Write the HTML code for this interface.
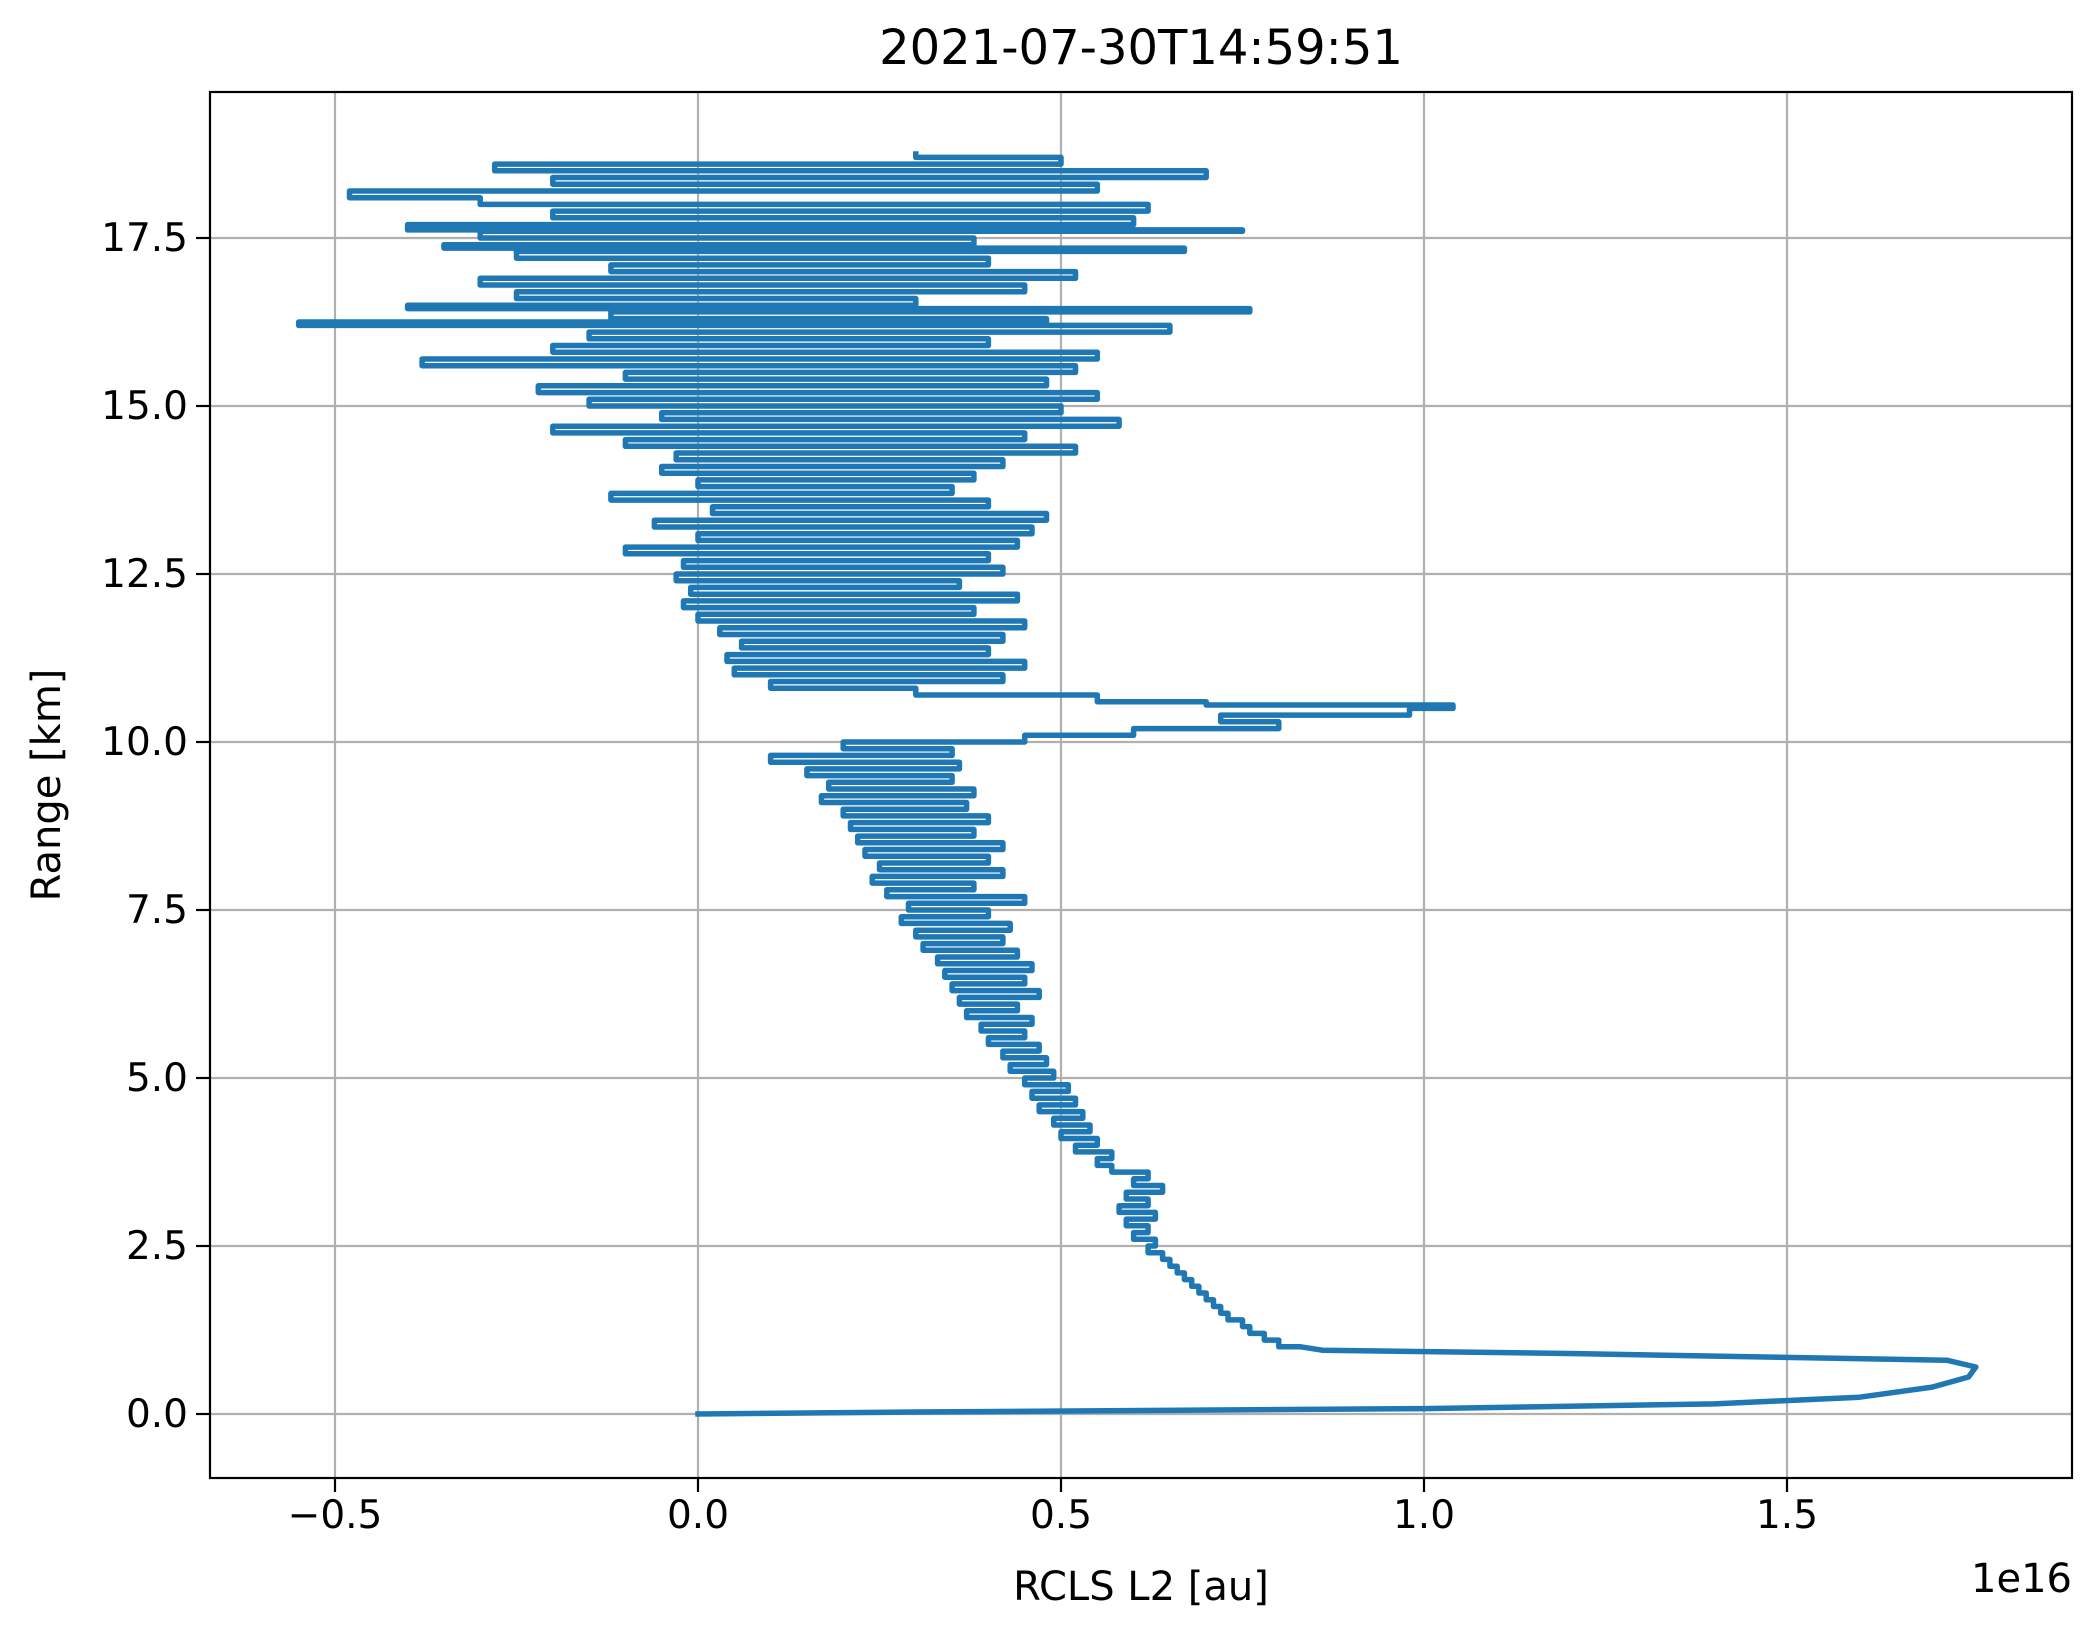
<!DOCTYPE html>
<html><head><meta charset="utf-8"><style>
html,body{margin:0;padding:0;background:#fff;}
svg{display:block;font-family:"DejaVu Sans","Liberation Sans",sans-serif;}
</style></head><body>
<svg id="chart" width="2100" height="1638" viewBox="0 0 2100 1638" xmlns="http://www.w3.org/2000/svg">
<rect width="2100" height="1638" fill="#fff"/>
<g id="grid"></g>
<g id="series"></g>
<rect x="210" y="92" width="1862" height="1386" fill="none" stroke="#000" stroke-width="2.2"/>
<g id="ticks"></g>
<text x="1141" y="64" text-anchor="middle" font-size="48">2021-07-30T14:59:51</text>
<text x="1141" y="1600" text-anchor="middle" font-size="40">RCLS L2 [au]</text>
<text x="2072" y="1592" text-anchor="end" font-size="40">1e16</text>
<text transform="translate(60,785) rotate(-90)" text-anchor="middle" font-size="40">Range [km]</text>
</svg>
<script>
const xTicks = [-0.5, 0.0, 0.5, 1.0, 1.5];
const xTickLabels = ["\u22120.5", "0.0", "0.5", "1.0", "1.5"];
const yTicks = [0, 2.5, 5, 7.5, 10, 12.5, 15, 17.5];
const yTickLabels = ["0.0", "2.5", "5.0", "7.5", "10.0", "12.5", "15.0", "17.5"];
const ranges = [0,0.03,0.08,0.15,0.25,0.4,0.55,0.7,0.8,0.9,0.95,1.0,
1.1,1.2,1.3,1.4,1.5,1.6,1.7,1.8,1.9,2.0,2.1,2.2,2.3,2.4,2.5,2.6,2.7,2.8,2.9,3.0,3.1,3.2,3.3,3.4,3.5,3.6,3.7,3.8,3.9,4.0,4.1,4.2,4.3,4.4,4.5,4.6,4.7,4.8,4.9,5.0,5.1,5.2,5.3,5.4,5.5,5.6,5.7,5.8,5.9,6.0,6.1,6.2,6.3,6.4,6.5,6.6,6.7,6.8,6.9,7.0,7.1,7.2,7.3,7.4,7.5,7.6,7.7,7.8,7.9,8.0,8.1,8.2,8.3,8.4,8.5,8.6,8.7,8.8,8.9,9.0,9.1,9.2,9.3,9.4,9.5,9.6,9.7,9.8,9.9,10.0,10.1,10.2,10.3,10.4,10.5,10.55,10.6,10.7,10.8,10.9,11.0,11.1,11.2,11.3,11.4,11.5,11.6,11.7,11.8,11.9,12.0,12.1,12.2,12.3,12.4,12.5,12.6,12.7,12.8,12.9,13.0,13.1,13.2,13.3,13.4,13.5,13.6,13.7,13.8,13.9,14.0,14.1,14.2,14.3,14.4,14.5,14.6,14.7,14.8,14.9,15.0,15.1,15.2,15.3,15.4,15.5,15.6,15.7,15.8,15.9,16.0,16.1,16.2,16.25,16.3,16.4,16.45,16.5,16.6,16.7,16.8,16.9,17.0,17.1,17.2,17.3,17.35,17.4,17.5,17.6,17.62,17.7,17.8,17.9,18.0,18.1,18.2,18.3,18.4,18.5,18.6,18.7,18.75];
const signal = [0,0.3,1.0,1.4,1.6,1.7,1.75,1.76,1.72,1.2,0.86,0.83,
0.80,0.78,0.76,0.75,0.73,0.72,0.71,0.70,0.69,0.68,0.67,0.66,0.65,0.64,0.62,0.63,0.60,0.62,0.59,0.63,0.58,0.62,0.59,0.64,0.60,0.62,0.57,0.55,0.57,0.52,0.55,0.50,0.54,0.49,0.53,0.47,0.52,0.46,0.51,0.45,0.49,0.43,0.48,0.42,0.47,0.40,0.45,0.39,0.46,0.37,0.44,0.36,0.47,0.35,0.45,0.34,0.46,0.33,0.44,0.31,0.42,0.30,0.43,0.28,0.40,0.29,0.45,0.26,0.38,0.24,0.42,0.25,0.40,0.23,0.42,0.22,0.38,0.21,0.40,0.20,0.37,0.17,0.38,0.18,0.35,0.15,0.36,0.10,0.35,0.20,0.45,0.60,0.80,0.72,0.98,1.04,0.70,0.55,0.30,0.10,0.42,0.05,0.45,0.04,0.40,0.06,0.42,0.03,0.45,0.00,0.38,-0.02,0.44,-0.01,0.36,-0.03,0.42,-0.02,0.40,-0.10,0.44,0.00,0.46,-0.06,0.48,0.02,0.40,-0.12,0.35,0.00,0.38,-0.05,0.42,-0.03,0.52,-0.10,0.45,-0.20,0.58,-0.05,0.50,-0.15,0.55,-0.22,0.48,-0.10,0.52,-0.38,0.55,-0.20,0.40,-0.15,0.65,-0.55,0.48,-0.12,0.76,-0.40,0.30,-0.25,0.45,-0.30,0.52,-0.12,0.40,-0.25,0.67,-0.35,0.38,-0.30,0.75,-0.40,0.60,-0.20,0.62,-0.30,-0.48,0.55,-0.20,0.70,-0.28,0.50,0.30];

const X0 = 698, XS = 363/0.5;
const Y0 = 1414, YS = 168/2.5;
function xScale(v){ return X0 + v*XS; }
function yScale(v){ return Y0 - v*YS; }
const NS = "http://www.w3.org/2000/svg";
const grid = document.getElementById('grid');
const ticks = document.getElementById('ticks');
function mk(tag, attrs, parent){ const e=document.createElementNS(NS,tag); for(const k in attrs) e.setAttribute(k,attrs[k]); parent.appendChild(e); return e; }

xTicks.forEach((t,i)=>{
  const x = xScale(t);
  const g = mk('line',{x1:x,x2:x,y1:92,y2:1478,stroke:'#b0b0b0','stroke-width':2.2},grid);
  
  
  const tk = mk('line',{x1:x,x2:x,y1:1478,y2:1492,stroke:'#000','stroke-width':2.2},ticks);
  
  
  const lb = mk('text',{x:x,y:1528,'text-anchor':'middle','font-size':39},ticks);
  lb.textContent = xTickLabels[i];
  
  
});
yTicks.forEach((t,i)=>{
  const y = yScale(t);
  const g = mk('line',{x1:210,x2:2072,y1:y,y2:y,stroke:'#b0b0b0','stroke-width':2.2},grid);
  
  
  const tk = mk('line',{x1:196,x2:210,y1:y,y2:y,stroke:'#000','stroke-width':2.2},ticks);
  
  
  const lb = mk('text',{x:188,y:y+13,'text-anchor':'end','font-size':39},ticks);
  lb.textContent = yTickLabels[i];
  
  
});
// step-style path: low-altitude smooth part as polyline, noisy part as horizontal steps
let d = '';
ranges.forEach((r,i)=>{
  const x = xScale(signal[i]).toFixed(1), y = yScale(r).toFixed(1);
  if(i===0){ d += 'M'+x+','+y; return; }
  if(r <= 1.0){ d += ' L'+x+','+y; return; }
  const yPrev = yScale(ranges[i-1]).toFixed(1);
  d += ' L'+x+','+yPrev+' L'+x+','+y;
});
const line = mk('path',{d:d,fill:'none',stroke:'#1f77b4','stroke-width':5.5,'stroke-linejoin':'round','stroke-linecap':'square'},document.getElementById('series'));


</script>
</body></html>
